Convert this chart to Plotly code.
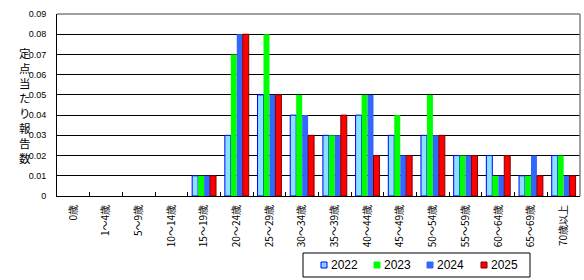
import plotly.graph_objects as go

categories = ["0歳", "1～4歳", "5～9歳", "10～14歳", "15～19歳", "20～24歳", "25～29歳",
              "30～34歳", "35～39歳", "40～44歳", "45～49歳", "50～54歳", "55～59歳",
              "60～64歳", "65～69歳", "70歳以上"]
v2022 = [0, 0, 0, 0, 0.01, 0.03, 0.05, 0.04, 0.03, 0.04, 0.03, 0.03, 0.02, 0.02, 0.01, 0.02]
v2023 = [0, 0, 0, 0, 0.01, 0.07, 0.08, 0.05, 0.03, 0.05, 0.04, 0.05, 0.02, 0.01, 0.01, 0.02]
v2024 = [0, 0, 0, 0, 0.01, 0.08, 0.05, 0.04, 0.03, 0.05, 0.02, 0.03, 0.02, 0.01, 0.02, 0.01]
v2025 = [0, 0, 0, 0, 0.01, 0.08, 0.05, 0.03, 0.04, 0.02, 0.02, 0.03, 0.02, 0.02, 0.01, 0.01]
series_names = ["2022", "2023", "2024", "2025"]
yticks = [0, 0.01, 0.02, 0.03, 0.04, 0.05, 0.06, 0.07, 0.08, 0.09]
ytext = ["0", "0.01", "0.02", "0.03", "0.04", "0.05", "0.06", "0.07", "0.08", "0.09"]
title_chars = "定点当たり報告数"

# layout geometry (pixels)
W, H = 584, 280
L, R, T, B = 57, 4, 14, 84
PW, PH = W - L - R, H - T - B


def px(x):
    return (x - L) / PW


def py(y):
    return (H - B - y) / PH


def lw(vals, w):
    return [w if v > 0 else 0 for v in vals]


fig = go.Figure()
fig.add_trace(go.Bar(x=categories, y=v2022, name=series_names[0],
                     marker=dict(color="white",
                                 pattern=dict(shape=".", fgcolor="#00c0ff", bgcolor="#e8f8ff",
                                              size=2, solidity=0.8),
                                 line=dict(color="#0000ff", width=lw(v2022, 1)))))
fig.add_trace(go.Bar(x=categories, y=v2023, name=series_names[1],
                     marker=dict(color="#00ff00", line=dict(width=0))))
fig.add_trace(go.Bar(x=categories, y=v2024, name=series_names[2],
                     marker=dict(color="#3366ff", line=dict(width=0))))
fig.add_trace(go.Bar(x=categories, y=v2025, name=series_names[3],
                     marker=dict(color="#ff0000", line=dict(color="#800000", width=lw(v2025, 1)))))

fig.update_layout(
    width=W, height=H,
    margin=dict(l=L, r=R, t=T, b=B),
    paper_bgcolor="white", plot_bgcolor="white",
    barmode="group", bargap=0.27, bargroupgap=0,
    font=dict(family="Liberation Sans, Arial", size=9, color="black"),
    xaxis=dict(type="category", showline=True, linecolor="black", linewidth=1,
               ticks="inside", ticklen=4, tickcolor="black", tickson="boundaries",
               tickangle=-90, showgrid=False,
               tickfont=dict(family="Noto Sans CJK JP", size=10), ticklabelstandoff=4),
    yaxis=dict(range=[0, 0.09], tickvals=yticks, ticktext=ytext, showline=True,
               linecolor="black", linewidth=1, showgrid=True, gridcolor="black",
               gridwidth=1, ticks="", zeroline=False, fixedrange=True,
               tickfont=dict(family="Liberation Sans, Arial", size=9), ticklabelstandoff=8),
    showlegend=False,
)
# plot-area border: gray top and right
fig.add_shape(type="line", xref="paper", yref="paper", x0=0, x1=1, y0=1, y1=1,
              line=dict(color="#808080", width=1.5), layer="above")
fig.add_shape(type="line", xref="paper", yref="paper", x0=1, x1=1, y0=0, y1=1,
              line=dict(color="#808080", width=1.5), layer="above")

# y-axis title, stacked upright characters
fig.add_annotation(text="<br>".join(title_chars), xref="paper", yref="paper",
                   x=px(25), y=0.5, xanchor="center", yanchor="middle",
                   showarrow=False,
                   font=dict(family="Noto Sans CJK JP", size=11.5, color="black"))

# legend box
fig.add_shape(type="rect", xref="paper", yref="paper",
              x0=px(303), x1=px(530), y0=py(277), y1=py(253),
              line=dict(color="black", width=1), fillcolor="white", layer="above")
sw_fill = ["#80d8ff", "#00ff00", "#3366ff", "#ff0000"]
sw_line = ["#0000ff", "#00ff00", "#3366ff", "#800000"]
sw_x = [321, 374, 427, 481]
for name, fc, lc, sx in zip(series_names, sw_fill, sw_line, sw_x):
    fig.add_shape(type="rect", xref="paper", yref="paper",
                  x0=px(sx), x1=px(sx + 6), y0=py(268), y1=py(262),
                  line=dict(color=lc, width=1), fillcolor=fc, layer="above")
    fig.add_annotation(text=name, xref="paper", yref="paper", x=px(sx + 8), y=py(265),
                       xanchor="left", yanchor="middle", showarrow=False,
                       font=dict(family="Liberation Sans, Arial", size=12, color="black"))

fig.write_html("out.html")
